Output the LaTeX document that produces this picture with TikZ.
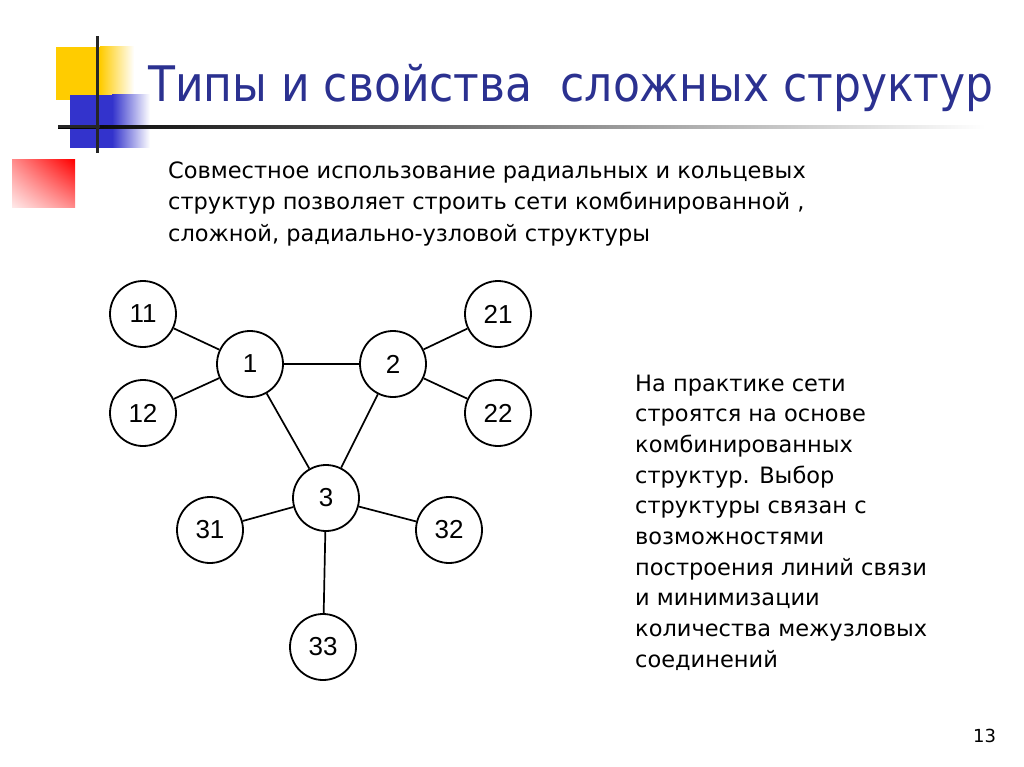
\documentclass[tikz,border=0pt]{standalone}
\usepackage{fontspec}
\usetikzlibrary{shadings}
\setmainfont{DejaVu Sans}
\newfontfamily\titlefont{DejaVu Sans Condensed}
\newfontfamily\nodefont{Liberation Sans}
\definecolor{titleblue}{RGB}{43,49,144}
\definecolor{decoyellow}{RGB}{255,204,0}
\definecolor{decoblue}{RGB}{51,51,204}
\tikzset{
  vtx/.style={circle, draw, line width=1.8pt, minimum size=66pt, inner sep=0pt, font=\nodefont\fontsize{26}{26}\selectfont},
  link/.style={line width=1.7pt},
  bodytext/.style={anchor=base west, inner sep=0pt, font=\fontsize{22.5}{22.5}\selectfont},
}
\begin{document}
\begin{tikzpicture}[x=1pt, y=-1pt]
\useasboundingbox (0,0) rectangle (1024,767);
% decorations
\fill[decoyellow] (56,47) rectangle (100,100);
\shade[left color=decoyellow, right color=white] (100,47) rectangle (134,100);
\fill[decoblue] (70,95) rectangle (112,148);
\shade[left color=decoblue, right color=white] (112,95) rectangle (150,148);
\shade[upper right=red, lower left={red!8!white}, upper left={red!45!white}, lower right={red!45!white}] (12,160) rectangle (75,208);
\shade[left color=black, right color=white] (58,125.5) rectangle (985,128.5);
\fill[black!85] (58,125.5) rectangle (100,128.5);
\fill[black!85] (95.5,36) rectangle (98.5,153);
% title
\node[anchor=base west, inner sep=0pt, text=titleblue, font=\titlefont\fontsize{49}{49}\selectfont] (title) at (148,102) {Типы и свойства \ сложных структур};
% body text
\node[bodytext] (b1) at (168,179) {Совместное использование радиальных и кольцевых};
\node[bodytext] (b2) at (168,210) {структур позволяет строить сети комбинированной ,};
\node[bodytext] (b3) at (168,241) {сложной, радиально-узловой структуры};
% right text
\node[bodytext] (r1) at (635,391) {На практике сети};
\node[bodytext] (r2) at (635,421.7) {строятся на основе};
\node[bodytext] (r3) at (635,452.3) {комбинированных};
\node[bodytext] (r4) at (635,483) {структур. Выбор};
\node[bodytext] (r5) at (635,513.7) {структуры связан с};
\node[bodytext] (r6) at (635,544.3) {возможностями};
\node[bodytext] (r7) at (635,575) {построения линий связи};
\node[bodytext] (r8) at (635,605.7) {и минимизации};
\node[bodytext] (r9) at (635,636.3) {количества межузловых};
\node[bodytext] (r10) at (635,667) {соединений};
\node[anchor=base west, inner sep=0pt, font=\fontsize{18}{18}\selectfont] (pg) at (973,742) {13};
% graph
\node[vtx] (n11) at (143,314) {11};
\node[vtx] (n12) at (143,413) {12};
\node[vtx] (n1) at (250,364) {1};
\node[vtx] (n2) at (393,364) {2};
\node[vtx] (n21) at (498,314) {21};
\node[vtx] (n22) at (498,413) {22};
\node[vtx] (n3) at (326,498) {3};
\node[vtx] (n31) at (210,530) {31};
\node[vtx] (n32) at (449,530) {32};
\node[vtx] (n33) at (323,647) {33};
\draw[link] (n11) -- (n1);
\draw[link] (n12) -- (n1);
\draw[link] (n1) -- (n2);
\draw[link] (n1) -- (n3);
\draw[link] (n2) -- (n3);
\draw[link] (n2) -- (n21);
\draw[link] (n2) -- (n22);
\draw[link] (n3) -- (n31);
\draw[link] (n3) -- (n32);
\draw[link] (n3) -- (n33);
\end{tikzpicture}
\end{document}
